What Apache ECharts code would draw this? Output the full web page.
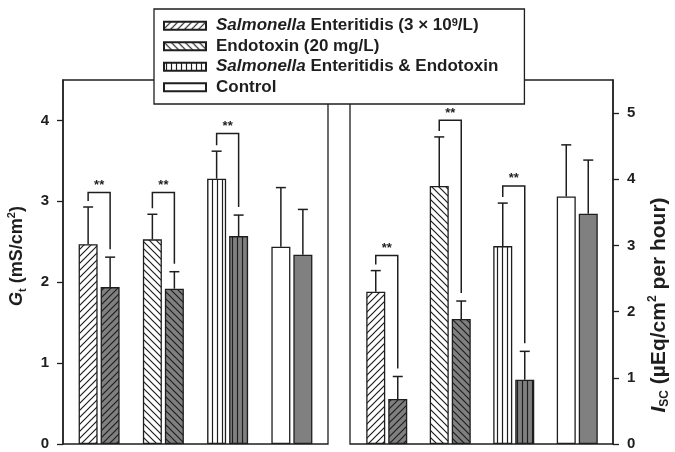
<!DOCTYPE html>
<html>
<head>
<meta charset="utf-8">
<script src="https://cdn.jsdelivr.net/npm/echarts@6/dist/echarts.min.js"></script>
<style>
  html, body { margin: 0; padding: 0; background: #fff; }
  #chart { width: 675px; height: 452px; }
</style>
</head>
<body>
<div id="chart"></div>
<script>
// treatments (one group of two bars each)
const categories = ['Salmonella', 'Endotoxin', 'Salmonella & Endotoxin', 'Control']
const legendNames = [
  'Salmonella Enteritidis (3 × 10⁹/L)',
  'Endotoxin (20 mg/L)',
  'Salmonella Enteritidis & Endotoxin',
  'Control',
]
const hatchKinds = ['/', '\\', '|', '']

// Gt (mS/cm2) - left panel
const gtWhite = [2.47, 2.53, 3.28, 2.44]
const gtWhiteSd = [0.46, 0.31, 0.34, 0.73]
const gtGrey = [1.94, 1.92, 2.57, 2.34]
const gtGreySd = [0.37, 0.21, 0.26, 0.56]
const gtBracket = [3.11, 3.11, 3.84, null]

// Isc (uEq/cm2 per hour) - right panel
const iscWhite = [2.30, 3.90, 2.99, 3.74]
const iscWhiteSd = [0.32, 0.74, 0.65, 0.78]
const iscGrey = [0.68, 1.89, 0.97, 3.48]
const iscGreySd = [0.34, 0.27, 0.43, 0.81]
const iscBracket = [2.85, 4.89, 3.90, null]

const gtTicks = [0, 1, 2, 3, 4]
const iscTicks = [0, 1, 2, 3, 4, 5]

const INK = '#1e1e1e'
const GREY = '#808080'
const FONT = '"Liberation Sans", Arial, sans-serif'
const BAR_W = 19
const BAR_GAP = 3

function hatch(bg, kind) {
  const s = kind === '|' ? 5 : 7
  const c = document.createElement('canvas')
  c.width = s
  c.height = s
  const g = c.getContext('2d')
  g.fillStyle = bg
  g.fillRect(0, 0, s, s)
  g.strokeStyle = INK
  g.lineWidth = 1.2
  g.beginPath()
  if (kind === '/') {
    g.moveTo(-1, s + 1); g.lineTo(s + 1, -1)
    g.moveTo(-1, 1); g.lineTo(1, -1)
    g.moveTo(s - 1, s + 1); g.lineTo(s + 1, s - 1)
  } else if (kind === '\\') {
    g.moveTo(-1, -1); g.lineTo(s + 1, s + 1)
    g.moveTo(s - 1, -1); g.lineTo(s + 1, 1)
    g.moveTo(-1, s - 1); g.lineTo(1, s + 1)
  } else if (kind === '|') {
    g.moveTo(2.5, 0); g.lineTo(2.5, s)
  }
  g.stroke()
  return { image: c, repeat: 'repeat' }
}

// panel 0 = Gt, panel 1 = Isc (axis indices)
function barSeries(panel, white, grey) {
  const out = []
  ;[[white, '#ffffff', 'w'], [grey, GREY, 'g']].forEach(([vals, bg, key]) => {
    vals.forEach((v, i) => {
      out.push({
        name: key === 'w' ? legendNames[i] : legendNames[i] + ' ',
        type: 'bar',
        xAxisIndex: panel,
        yAxisIndex: panel,
        stack: key + panel,
        barWidth: BAR_W,
        barGap: (BAR_GAP / BAR_W * 100) + '%',
        data: vals.map((x, j) => (j === i ? x : '-')),
        itemStyle: { color: hatch(bg, hatchKinds[i]), borderColor: INK, borderWidth: 1.3 },
      })
    })
  })
  return out
}

const OFF = (BAR_W + BAR_GAP) / 2

function errorSeries(panel, white, whiteSd, grey, greySd) {
  const data = []
  white.forEach((v, i) => data.push([i, v, v + whiteSd[i], 0]))
  grey.forEach((v, i) => data.push([i, v, v + greySd[i], 1]))
  return {
    type: 'custom',
    xAxisIndex: panel,
    yAxisIndex: panel,
    z: 3,
    encode: { x: 0, y: [1, 2] },
    data: data,
    renderItem: (params, api) => {
      const base = api.coord([api.value(0), api.value(1)])
      const top = api.coord([api.value(0), api.value(2)])
      const x = base[0] + (api.value(3) ? OFF : -OFF)
      const st = { stroke: INK, lineWidth: 1.5 }
      return {
        type: 'group',
        children: [
          { type: 'line', shape: { x1: x, y1: base[1], x2: x, y2: top[1] }, style: st },
          { type: 'line', shape: { x1: x - 5, y1: top[1], x2: x + 5, y2: top[1] }, style: st },
        ],
      }
    },
  }
}

function bracketSeries(panel, white, whiteSd, grey, greySd, tops) {
  const data = []
  tops.forEach((t, i) => {
    if (t != null) data.push([i, white[i] + whiteSd[i], t, grey[i] + greySd[i]])
  })
  return {
    type: 'custom',
    xAxisIndex: panel,
    yAxisIndex: panel,
    z: 3,
    encode: { x: 0, y: [1, 2, 3] },
    data: data,
    renderItem: (params, api) => {
      const l = api.coord([api.value(0), api.value(1)])
      const t = api.coord([api.value(0), api.value(2)])
      const r = api.coord([api.value(0), api.value(3)])
      const xl = l[0] - OFF
      const xr = l[0] + OFF
      return {
        type: 'group',
        children: [
          {
            type: 'polyline',
            shape: { points: [[xl, l[1] - 6], [xl, t[1]], [xr, t[1]], [xr, r[1] - 8]] },
            style: { stroke: INK, lineWidth: 1.5, fill: null },
          },
          {
            type: 'text',
            x: (xl + xr) / 2,
            y: t[1] - 7,
            style: { text: '**', font: 'bold 13px ' + FONT, fill: INK, align: 'center', verticalAlign: 'middle' },
          },
        ],
      }
    },
  }
}

const axisCommon = {
  type: 'value',
  interval: 1,
  splitLine: { show: false },
  axisLine: { show: true, lineStyle: { color: INK, width: 1.5 } },
  axisTick: { show: true, length: 6, lineStyle: { color: INK, width: 1.3 } },
}

const labelFont = { margin: 14, fontSize: 15, fontWeight: 'bold', color: INK }

const chart = echarts.init(document.getElementById('chart'), null, { renderer: 'canvas' })

chart.setOption({
  animation: false,
  backgroundColor: '#fff',
  textStyle: { fontFamily: FONT },
  grid: [
    // bar areas
    { left: 67, right: 351, top: 80, bottom: 8 },
    { left: 355, right: 66, top: 80, bottom: 8 },
    // panel frames
    { left: 63, right: 347, top: 80, bottom: 8, show: true, borderColor: INK, borderWidth: 1.3 },
    { left: 350, right: 62, top: 80, bottom: 8, show: true, borderColor: INK, borderWidth: 1.3 },
  ],
  legend: {
    data: legendNames,
    orient: 'vertical',
    left: 154,
    top: 9,
    padding: [8, 26, 8, 9],
    itemWidth: 42,
    itemHeight: 8,
    itemGap: 3,
    icon: 'rect',
    backgroundColor: '#fff',
    borderColor: INK,
    borderWidth: 1.3,
    borderRadius: 0,
    z: 10,
    formatter: (name) => name.replace('Salmonella', '{i|Salmonella}').replace('⁹', '{sup|9}'),
    textStyle: {
      fontSize: 17,
      fontWeight: 'bold',
      color: INK,
      lineHeight: 17.5,
      padding: [0, 0, 0, 5],
      rich: {
        i: { fontSize: 17, fontWeight: 'bold', fontStyle: 'italic', color: INK, fontFamily: FONT },
        sup: { fontSize: 11, fontWeight: 'bold', color: INK, verticalAlign: 'top', lineHeight: 17.5, padding: [0, 0, 6, 0], fontFamily: FONT },
      },
    },
  },
  xAxis: [0, 1].map((p) => ({
    type: 'category',
    gridIndex: p,
    data: categories,
    axisLabel: { show: false },
    axisTick: { show: false },
    axisLine: { show: false },
  })),
  yAxis: [
    Object.assign({}, axisCommon, {
      gridIndex: 0,
      offset: 4,
      min: 0,
      max: 4.5,
      axisTick: Object.assign({}, axisCommon.axisTick, { customValues: gtTicks }),
      axisLabel: Object.assign({ customValues: gtTicks }, labelFont),
    }),
    Object.assign({}, axisCommon, {
      gridIndex: 1,
      position: 'right',
      offset: 4,
      min: 0,
      max: 5.5,
      axisTick: Object.assign({}, axisCommon.axisTick, { customValues: iscTicks }),
      axisLabel: Object.assign({ customValues: iscTicks }, labelFont),
    }),
  ],
  graphic: [
    {
      type: 'text',
      x: 17,
      y: 256,
      rotation: Math.PI / 2,
      style: {
        text: '{i|G}{sub|t} (mS/cm{sup|2})',
        font: 'bold 18px ' + FONT,
        fill: INK,
        align: 'center',
        verticalAlign: 'middle',
        rich: {
          i: { font: 'italic bold 18px ' + FONT, fill: INK, lineHeight: 22 },
          sub: { font: 'bold 11px ' + FONT, fill: INK, verticalAlign: 'bottom', lineHeight: 22 },
          sup: { font: 'bold 11px ' + FONT, fill: INK, verticalAlign: 'top', lineHeight: 22 },
        },
      },
    },
    {
      type: 'text',
      x: 659,
      y: 305,
      rotation: Math.PI / 2,
      style: {
        text: '{i|I}{sub|SC} (µEq/cm{sup|2} per hour)',
        font: 'bold 21px ' + FONT,
        fill: INK,
        align: 'center',
        verticalAlign: 'middle',
        rich: {
          i: { font: 'italic bold 21px ' + FONT, fill: INK, lineHeight: 24 },
          sub: { font: 'bold 12px ' + FONT, fill: INK, verticalAlign: 'bottom', lineHeight: 24 },
          sup: { font: 'bold 12px ' + FONT, fill: INK, verticalAlign: 'top', lineHeight: 24 },
        },
      },
    },
  ],
  series: [
    ...barSeries(0, gtWhite, gtGrey),
    ...barSeries(1, iscWhite, iscGrey),
    errorSeries(0, gtWhite, gtWhiteSd, gtGrey, gtGreySd),
    errorSeries(1, iscWhite, iscWhiteSd, iscGrey, iscGreySd),
    bracketSeries(0, gtWhite, gtWhiteSd, gtGrey, gtGreySd, gtBracket),
    bracketSeries(1, iscWhite, iscWhiteSd, iscGrey, iscGreySd, iscBracket),
  ],
})
</script>
</body>
</html>
